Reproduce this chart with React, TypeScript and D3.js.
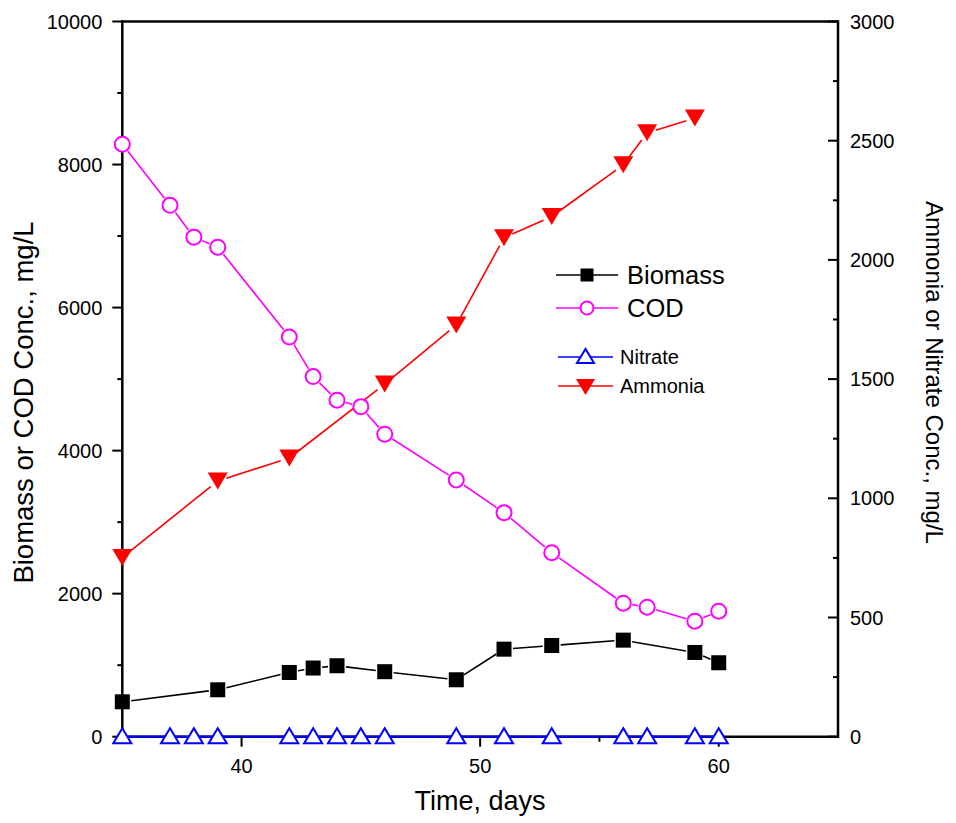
import React from "react";
import * as d3 from "d3";

const daysAll = [35, 37, 38, 39, 42, 43, 44, 45, 46, 49, 51, 53, 56, 57, 59, 60];
const codValues = [8285, 7430, 6985, 6845, 5590, 5035, 4705, 4615, 4230, 3590, 3133, 2573, 1867, 1811, 1615, 1755];
const nitrateValues = [0, 0, 0, 0, 0, 0, 0, 0, 0, 0, 0, 0, 0, 0, 0, 0];
const biomassDays = [35, 39, 42, 43, 44, 46, 49, 51, 53, 56, 59, 60];
const biomassValues = [488, 656, 898, 960, 992, 909, 796, 1224, 1275, 1350, 1178, 1034];
const ammoniaDays = [35, 39, 42, 46, 49, 51, 53, 56, 57, 59];
const ammoniaValues = [752, 1073, 1169, 1479, 1727, 2093, 2182, 2399, 2533, 2595];

const xMajor = [40, 50, 60];
const xMinor = [45, 55];
const leftMajor = [0, 2000, 4000, 6000, 8000, 10000];
const leftMinor = [1000, 3000, 5000, 7000, 9000];
const rightMajor = [0, 500, 1000, 1500, 2000, 2500, 3000];
const rightMinor = [250, 750, 1250, 1750, 2250, 2750];

const FONT = "'Liberation Sans', Arial, Helvetica, sans-serif";

const x = d3.scaleLinear().domain([35, 65]).range([122.3, 838]);
const yL = d3.scaleLinear().domain([0, 10000]).range([736.7, 21.5]);
const yR = d3.scaleLinear().domain([0, 3000]).range([736.7, 21.5]);

type P = [number, number];

function gappedSegments(pts: P[], gap: number) {
  const segs: string[] = [];
  for (let i = 0; i < pts.length - 1; i++) {
    const [x1, y1] = pts[i];
    const [x2, y2] = pts[i + 1];
    const dx = x2 - x1, dy = y2 - y1;
    const len = Math.hypot(dx, dy);
    if (len <= 2 * gap) continue;
    const ux = dx / len, uy = dy / len;
    segs.push(
      `M${x1 + ux * gap},${y1 + uy * gap}L${x2 - ux * gap},${y2 - uy * gap}`
    );
  }
  return segs.join("");
}

function Square({ cx, cy, s = 15 }: { cx: number; cy: number; s?: number }) {
  return <rect x={cx - s / 2} y={cy - s / 2} width={s} height={s} fill="#000" />;
}
function Circle({ cx, cy }: { cx: number; cy: number }) {
  return <circle cx={cx} cy={cy} r={7.5} fill="#fff" stroke="#ff00ff" strokeWidth={2} />;
}
function TriUp({ cx, cy }: { cx: number; cy: number }) {
  const w = 18, h = 15;
  return (
    <path
      d={`M${cx - w / 2},${cy + h / 2}L${cx + w / 2},${cy + h / 2}L${cx},${cy - h / 2}Z`}
      fill="#fff"
      stroke="#0000ff"
      strokeWidth={2}
    />
  );
}
function TriDown({ cx, cy }: { cx: number; cy: number }) {
  const w = 20, h = 17;
  return (
    <path
      d={`M${cx - w / 2},${cy - h / 2}L${cx + w / 2},${cy - h / 2}L${cx},${cy + h / 2}Z`}
      fill="#ff0000"
    />
  );
}

export default function App() {
  const bioPts: P[] = biomassDays.map((d, i) => [x(d), yL(biomassValues[i])]);
  const codPts: P[] = daysAll.map((d, i) => [x(d), yL(codValues[i])]);
  const nitPts: P[] = daysAll.map((d, i) => [x(d), yR(nitrateValues[i])]);
  const ammPts: P[] = ammoniaDays.map((d, i) => [x(d), yR(ammoniaValues[i])]);

  const x0 = x.range()[0], x1 = x.range()[1];
  const yb = yL.range()[0], yt = yL.range()[1];

  return (
    <svg
      width={956}
      height={823}
      style={{ position: "absolute", left: 0, top: 0, background: "#fff" }}
      fontFamily={FONT}
    >
      <rect width={956} height={823} fill="#fff" />

      {/* series lines */}
      <path d={gappedSegments(bioPts, 9)} stroke="#000" strokeWidth={1.6} fill="none" />
      <path d={gappedSegments(codPts, 9)} stroke="#ff00ff" strokeWidth={1.6} fill="none" />
      <path d={gappedSegments(ammPts, 9)} stroke="#ff0000" strokeWidth={1.6} fill="none" />

      {/* frame */}
      <g stroke="#000" strokeWidth={2.5} fill="none">
        <line x1={x0} y1={yb} x2={x1} y2={yb} />
        <line x1={x0} y1={yt} x2={x1} y2={yt} />
        <line x1={x0} y1={yt - 1.2} x2={x0} y2={yb + 1.2} />
        <line x1={x1} y1={yt - 1.2} x2={x1} y2={yb + 1.2} />
      </g>

      {/* nitrate line on zero */}
      <path d={d3.line()(nitPts) || ""} stroke="#0000ff" strokeWidth={2.2} fill="none" />

      {/* x ticks */}
      <g stroke="#000" strokeWidth={2}>
        {xMajor.map((t) => (
          <line key={"xm" + t} x1={x(t)} x2={x(t)} y1={yb} y2={yb + 10} />
        ))}
        {xMinor.map((t) => (
          <line key={"xn" + t} x1={x(t)} x2={x(t)} y1={yb} y2={yb + 5} />
        ))}
        {leftMajor.map((t) => (
          <line key={"lm" + t} x1={x0 - 10} x2={x0} y1={yL(t)} y2={yL(t)} />
        ))}
        {leftMinor.map((t) => (
          <line key={"ln" + t} x1={x0 - 5} x2={x0} y1={yL(t)} y2={yL(t)} />
        ))}
        {rightMajor.map((t) => (
          <line key={"rm" + t} x1={x1 - 10} x2={x1} y1={yR(t)} y2={yR(t)} />
        ))}
        {rightMinor.map((t) => (
          <line key={"rn" + t} x1={x1 - 5} x2={x1} y1={yR(t)} y2={yR(t)} />
        ))}
      </g>

      {/* tick labels */}
      <g fontSize={20} fill="#000">
        {xMajor.map((t) => (
          <text key={"xl" + t} x={x(t)} y={yb + 36} textAnchor="middle">
            {t}
          </text>
        ))}
        {leftMajor.map((t) => (
          <text key={"ll" + t} x={x0 - 20} y={yL(t) + 7} textAnchor="end">
            {t}
          </text>
        ))}
        {rightMajor.map((t) => (
          <text key={"rl" + t} x={x1 + 12} y={yR(t) + 7} textAnchor="start">
            {t}
          </text>
        ))}
      </g>

      {/* axis titles */}
      <text x={480} y={810} fontSize={27} textAnchor="middle">
        Time, days
      </text>
      <text
        transform={`translate(33, ${(220 + 585) / 2}) rotate(-90)`}
        fontSize={27.5}
        textAnchor="middle"
      >
        Biomass or COD Conc., mg/L
      </text>
      <text
        transform={`translate(926, ${(198 + 547) / 2}) rotate(90)`}
        fontSize={24}
        textAnchor="middle"
      >
        Ammonia or Nitrate Conc., mg/L
      </text>

      {/* markers */}
      {codPts.map(([cx, cy], i) => (
        <Circle key={"c" + i} cx={cx} cy={cy} />
      ))}
      {bioPts.map(([cx, cy], i) => (
        <Square key={"b" + i} cx={cx} cy={cy} />
      ))}
      {ammPts.map(([cx, cy], i) => (
        <TriDown key={"a" + i} cx={cx} cy={cy} />
      ))}
      {nitPts.map(([cx, cy], i) => (
        <TriUp key={"n" + i} cx={cx} cy={cy - 1} />
      ))}

      {/* legend */}
      <g>
        <line x1={556} x2={618} y1={275} y2={275} stroke="#000" strokeWidth={1.6} />
        <Square cx={587} cy={275} s={13} />
        <text x={627} y={284} fontSize={25.5}>Biomass</text>

        <line x1={556} x2={618} y1={308} y2={308} stroke="#ff00ff" strokeWidth={1.6} />
        <circle cx={587} cy={308} r={6.5} fill="#fff" stroke="#ff00ff" strokeWidth={2} />
        <text x={627} y={317} fontSize={25.5}>COD</text>

        <line x1={558} x2={613} y1={357} y2={357} stroke="#0000ff" strokeWidth={1.6} />
        <path d="M577,363L594,363L585.5,349Z" fill="#fff" stroke="#0000ff" strokeWidth={2} />
        <text x={620} y={364} fontSize={20}>Nitrate</text>

        <line x1={558} x2={613} y1={386} y2={386} stroke="#ff0000" strokeWidth={1.6} />
        <path d="M576,379L595,379L585.5,395Z" fill="#ff0000" />
        <text x={620} y={393} fontSize={20}>Ammonia</text>
      </g>
    </svg>
  );
}
